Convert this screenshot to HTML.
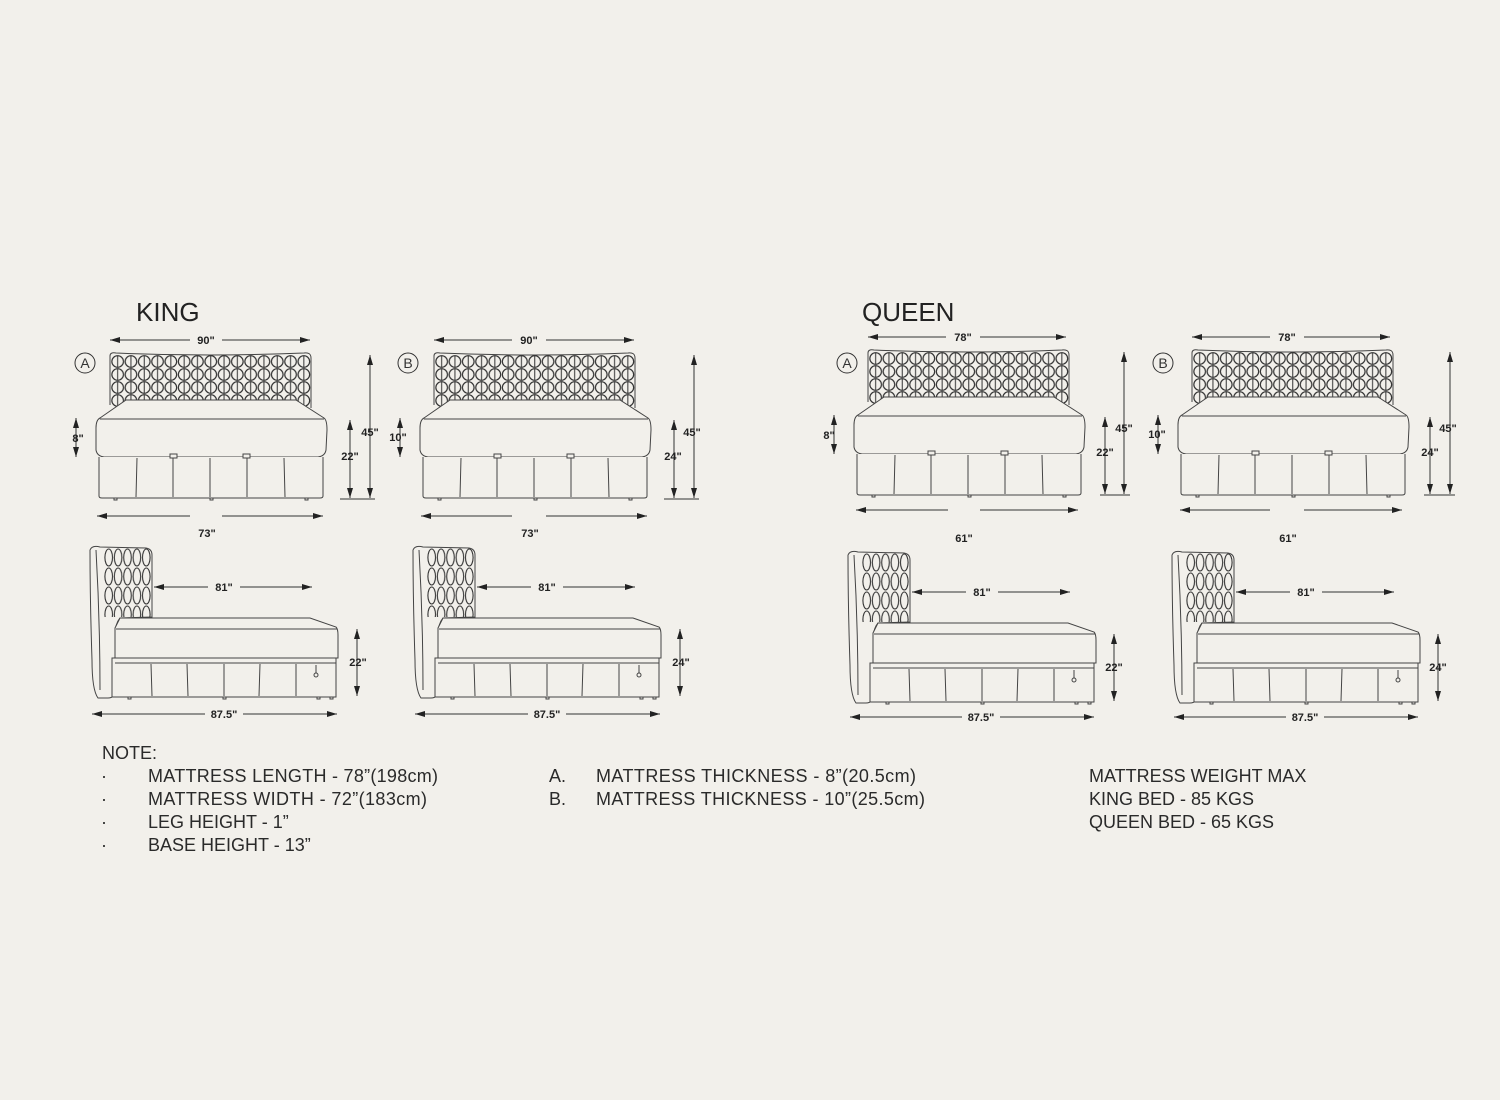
<!DOCTYPE html>
<html><head><meta charset="utf-8"><style>
html,body{margin:0;padding:0;background:#f2f0eb;}
svg{display:block}
.t{font-family:"Liberation Sans",Arial,sans-serif;font-weight:bold;font-size:11px;fill:#222;text-anchor:middle}
.h{font-family:"Liberation Sans",sans-serif;font-size:26px;fill:#222}
.n{font-family:"Liberation Sans",sans-serif;font-size:18px;fill:#2a2a2a}
</style></head><body>
<svg width="1500" height="1100" viewBox="0 0 1500 1100" xmlns="http://www.w3.org/2000/svg">
<defs>
<marker id="ar" viewBox="0 0 10 6" refX="10" refY="3" markerWidth="10" markerHeight="6" orient="auto-start-reverse" markerUnits="userSpaceOnUse"><path d="M0,0L10,3L0,6z" fill="#222"/></marker>
<pattern id="circ" x="15" y="5" width="13.3" height="13" patternUnits="userSpaceOnUse">
<circle cx="6.65" cy="6.5" r="5.8" fill="none" stroke="#333" stroke-width="1.2"/>
<line x1="6.65" y1="0.7" x2="6.65" y2="12.3" stroke="#333" stroke-width="1"/>
</pattern>
<pattern id="oval" x="24" y="8" width="9.4" height="19" patternUnits="userSpaceOnUse">
<ellipse cx="4.7" cy="9.5" rx="3.8" ry="8.5" fill="none" stroke="#333" stroke-width="1.1"/>
</pattern>
<g id="front" fill="none" stroke="#444" stroke-width="1">
<path d="M14,55 L14,6 Q14,2 20,3 Q114,7 208,3 Q215,2 215,8 L215,58" fill="#f2f0eb"/>
<rect x="15" y="5" width="199.5" height="52" fill="url(#circ)" stroke="none"/>
<path d="M30,50 L200,50 L228,68 Q231,70 231,80 L230,100 Q229,106 222,107 L8,107 Q1,106 0,100 L0,78 Q0,70 4,68 Z" fill="#f2f0eb"/>
<line x1="4" y1="69" x2="228" y2="69"/>
<path d="M3,107 L3,146 Q3,148 6,148 L224,148 Q227,148 227,146 L227,107" fill="#f2f0eb"/>
<path d="M41,108 L40,147 M77,108 L77,147 M114,108 L114,147 M151,108 L151,147 M188,108 L189,147"/>
<rect x="74" y="104" width="7" height="4" fill="#f2f0eb"/><rect x="147" y="104" width="7" height="4" fill="#f2f0eb"/>
<rect x="18" y="148" width="3" height="2"/><rect x="114" y="148" width="3" height="2"/><rect x="209" y="148" width="3" height="2"/>
</g>
<g id="side" fill="none" stroke="#444" stroke-width="1">
<path d="M10,10 Q12,5 20,7 L66,8 Q72,9 72,15 L72,77 L40,78 Q35,84 35,95 L35,150 Q35,158 28,158 L18,158 Q12,150 12,120 Q10,60 10,10 Z" fill="#f2f0eb"/>
<rect x="24" y="8" width="47" height="69" fill="url(#oval)" stroke="none"/>
<path d="M16,10 Q20,80 20,150"/>
<path d="M35,88 L40,78 L230,78 L256,87 Q258,89 258,95 L258,118 L35,118 Z" fill="#f2f0eb"/>
<line x1="36" y1="89" x2="257" y2="89"/>
<path d="M32,118 L256,118 L256,157 L32,157 Z" fill="#f2f0eb"/>
<line x1="35" y1="123" x2="256" y2="123"/>
<path d="M71,124 L72,156 M107,124 L108,156 M144,124 L144,156 M180,124 L179,156 M216,124 L216,156"/>
<path d="M236,125 L236,133"/><circle cx="236" cy="135" r="2"/>
<rect x="48" y="157" width="3" height="2"/><rect x="143" y="157" width="3" height="2"/><rect x="237" y="157" width="3" height="2"/><rect x="250" y="157" width="3" height="2"/>
</g>
</defs>

<text class="h" x="136" y="321">KING</text>
<text class="h" x="862" y="321">QUEEN</text>

<use href="#front" x="96" y="350"/>
<use href="#front" x="420" y="350"/>
<use href="#front" x="854" y="347"/>
<use href="#front" x="1178" y="347"/>

<g stroke="#333" stroke-width="1" fill="none">
<circle cx="85" cy="363" r="10"/><circle cx="408" cy="363" r="10"/><circle cx="847" cy="363" r="10"/><circle cx="1163" cy="363" r="10"/>
<path d="M110,340H190M222,340H310" marker-start="url(#ar)" marker-end="url(#ar)"/>
<path d="M97,516H190M222,516H323" marker-start="url(#ar)" marker-end="url(#ar)"/>
<path d="M76,418V457" marker-start="url(#ar)" marker-end="url(#ar)"/>
<path d="M350,420V498" marker-start="url(#ar)" marker-end="url(#ar)"/>
<path d="M370,355V498" marker-start="url(#ar)" marker-end="url(#ar)"/>
<path d="M340,499H375"/>
<path d="M434,340H512M546,340H634" marker-start="url(#ar)" marker-end="url(#ar)"/>
<path d="M421,516H512M546,516H647" marker-start="url(#ar)" marker-end="url(#ar)"/>
<path d="M400,418V457" marker-start="url(#ar)" marker-end="url(#ar)"/>
<path d="M674,420V498" marker-start="url(#ar)" marker-end="url(#ar)"/>
<path d="M694,355V498" marker-start="url(#ar)" marker-end="url(#ar)"/>
<path d="M664,499H699"/>
<path d="M868,337H946M980,337H1066" marker-start="url(#ar)" marker-end="url(#ar)"/>
<path d="M856,510H948M980,510H1078" marker-start="url(#ar)" marker-end="url(#ar)"/>
<path d="M834,415V454" marker-start="url(#ar)" marker-end="url(#ar)"/>
<path d="M1105,417V494" marker-start="url(#ar)" marker-end="url(#ar)"/>
<path d="M1124,352V494" marker-start="url(#ar)" marker-end="url(#ar)"/>
<path d="M1100,495H1130"/>
<path d="M1192,337H1270M1304,337H1390" marker-start="url(#ar)" marker-end="url(#ar)"/>
<path d="M1180,510H1270M1304,510H1402" marker-start="url(#ar)" marker-end="url(#ar)"/>
<path d="M1158,415V454" marker-start="url(#ar)" marker-end="url(#ar)"/>
<path d="M1430,417V494" marker-start="url(#ar)" marker-end="url(#ar)"/>
<path d="M1450,352V494" marker-start="url(#ar)" marker-end="url(#ar)"/>
<path d="M1424,495H1455"/>
</g>

<g font-family="Liberation Sans,sans-serif" font-size="14" fill="#333" text-anchor="middle">
<text x="85" y="368">A</text><text x="408" y="368">B</text><text x="847" y="368">A</text><text x="1163" y="368">B</text>
</g>
<g>
<text class="t" x="206" y="344">90"</text><text class="t" x="207" y="537">73"</text>
<text class="t" x="78" y="442">8"</text><text class="t" x="350" y="460">22"</text><text class="t" x="370" y="436">45"</text>
<text class="t" x="529" y="344">90"</text><text class="t" x="530" y="537">73"</text>
<text class="t" x="398" y="441">10"</text><text class="t" x="673" y="460">24"</text><text class="t" x="692" y="436">45"</text>
<text class="t" x="963" y="341">78"</text><text class="t" x="964" y="542">61"</text>
<text class="t" x="829" y="439">8"</text><text class="t" x="1105" y="456">22"</text><text class="t" x="1124" y="432">45"</text>
<text class="t" x="1287" y="341">78"</text><text class="t" x="1288" y="542">61"</text>
<text class="t" x="1157" y="438">10"</text><text class="t" x="1430" y="456">24"</text><text class="t" x="1448" y="432">45"</text>
</g>

<use href="#side" x="80" y="540"/>
<use href="#side" x="403" y="540"/>
<use href="#side" x="838" y="545"/>
<use href="#side" x="1162" y="545"/>

<g stroke="#333" stroke-width="1" fill="none">
<path d="M154,587H208M240,587H312" marker-start="url(#ar)" marker-end="url(#ar)"/>
<path d="M92,714H205M243,714H337" marker-start="url(#ar)" marker-end="url(#ar)"/>
<path d="M357,629V696" marker-start="url(#ar)" marker-end="url(#ar)"/>
<path d="M477,587H531M563,587H635" marker-start="url(#ar)" marker-end="url(#ar)"/>
<path d="M415,714H528M566,714H660" marker-start="url(#ar)" marker-end="url(#ar)"/>
<path d="M680,629V696" marker-start="url(#ar)" marker-end="url(#ar)"/>
<path d="M912,592H966M998,592H1070" marker-start="url(#ar)" marker-end="url(#ar)"/>
<path d="M850,717H962M1000,717H1094" marker-start="url(#ar)" marker-end="url(#ar)"/>
<path d="M1114,634V701" marker-start="url(#ar)" marker-end="url(#ar)"/>
<path d="M1236,592H1290M1322,592H1394" marker-start="url(#ar)" marker-end="url(#ar)"/>
<path d="M1174,717H1286M1324,717H1418" marker-start="url(#ar)" marker-end="url(#ar)"/>
<path d="M1438,634V701" marker-start="url(#ar)" marker-end="url(#ar)"/>
</g>
<g>
<text class="t" x="224" y="591">81"</text><text class="t" x="224" y="718">87.5"</text><text class="t" x="358" y="666">22"</text>
<text class="t" x="547" y="591">81"</text><text class="t" x="547" y="718">87.5"</text><text class="t" x="681" y="666">24"</text>
<text class="t" x="982" y="596">81"</text><text class="t" x="981" y="721">87.5"</text><text class="t" x="1114" y="671">22"</text>
<text class="t" x="1306" y="596">81"</text><text class="t" x="1305" y="721">87.5"</text><text class="t" x="1438" y="671">24"</text>
</g>

<g>
<text class="n" x="102" y="759">NOTE:</text>
<text class="n" x="101" y="782">·</text><text class="n" x="148" y="782" textLength="290">MATTRESS LENGTH - 78”(198cm)</text>
<text class="n" x="101" y="805">·</text><text class="n" x="148" y="805" textLength="279">MATTRESS WIDTH - 72”(183cm)</text>
<text class="n" x="101" y="828">·</text><text class="n" x="148" y="828">LEG HEIGHT - 1”</text>
<text class="n" x="101" y="851">·</text><text class="n" x="148" y="851">BASE HEIGHT - 13”</text>
<text class="n" x="549" y="782">A.</text><text class="n" x="596" y="782" textLength="320">MATTRESS THICKNESS - 8”(20.5cm)</text>
<text class="n" x="549" y="805">B.</text><text class="n" x="596" y="805" textLength="329">MATTRESS THICKNESS - 10”(25.5cm)</text>
<text class="n" x="1089" y="782">MATTRESS WEIGHT MAX</text>
<text class="n" x="1089" y="805">KING BED - 85 KGS</text>
<text class="n" x="1089" y="828">QUEEN BED - 65 KGS</text>
</g>
</svg>
</body></html>
